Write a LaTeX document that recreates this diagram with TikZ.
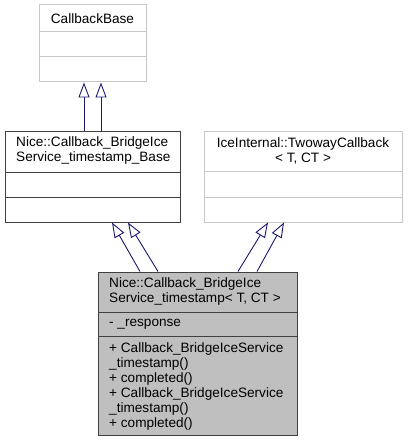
\documentclass[tikz,border=0pt]{standalone}
\usepackage{fontspec}
\setmainfont{Liberation Sans}
\usetikzlibrary{arrows.meta, positioning, calc}
\definecolor{edgeblue}{RGB}{25, 25, 112}
\definecolor{fillgray}{RGB}{191, 191, 191}
\definecolor{palegray}{RGB}{200, 200, 200}
\definecolor{darkline}{RGB}{64, 64, 64}
\newcommand{\umlfont}{\fontsize{13.6}{15}\selectfont}

\begin{document}
\begin{tikzpicture}[x=1pt, y=-1pt,
  umlbox/.style={draw=darkline, line width=1pt, inner sep=0pt},
  palebox/.style={draw=palegray, line width=1pt, inner sep=0pt},
  umltext/.style={inner sep=0pt, font=\umlfont, align=left, anchor=west},
  inherit/.style={draw=edgeblue, line width=0.9pt, -{Triangle[open, length=15pt, width=11pt]}}]
  \useasboundingbox (0,0) rectangle (407,441);

  % Boxes
  \node[palebox, minimum width=107pt, minimum height=77pt] (cbase) at (92.5, 43.5) {};
  \node[umlbox, minimum width=175pt, minimum height=91pt] (base) at (92.5, 176.5) {};
  \node[palebox, minimum width=198pt, minimum height=91pt] (tw) at (303, 176.5) {};
  \node[umlbox, fill=fillgray, minimum width=199pt, minimum height=163pt] (main) at (197.5, 353.5) {};

  % Compartment lines
  \draw[palegray, line width=1pt] (39, 32) -- (146, 32) (39, 57) -- (146, 57);
  \draw[darkline, line width=1pt] (5, 172) -- (180, 172) (5, 197) -- (180, 197);
  \draw[palegray, line width=1pt] (204, 171) -- (402, 171) (204, 197) -- (402, 197);
  \draw[darkline, line width=1pt] (98, 312) -- (297, 312) (98, 336) -- (297, 336);

  % Texts
  \node[umltext, anchor=center] (cbasetitle) at (92.5, 19) {CallbackBase};
  \node[umltext] (basetitle) at (16, 150.5) {Nice::Callback\_BridgeIce\\Service\_timestamp\_Base};
  \node[umltext, anchor=center, align=center] (twtitle) at (303, 150.5) {IceInternal::TwowayCallback\\< T, CT >};
  \node[umltext] (maintitle) at (109, 291) {Nice::Callback\_BridgeIce\\Service\_timestamp< T, CT >};
  \node[umltext] (mainattr) at (109, 324) {- \_response};
  \node[umltext] (mainops) at (109, 386) {+ Callback\_BridgeIceService\\\_timestamp()\\+ completed()\\+ Callback\_BridgeIceService\\\_timestamp()\\+ completed()};

  % Inheritance
  \draw[inherit] ([xshift=-8.5pt]base.north) -- ([xshift=-8.5pt]cbase.south);
  \draw[inherit] ([xshift=8.5pt]base.north) -- ([xshift=8.5pt]cbase.south);
  \draw[inherit] ([xshift=-57.5pt]main.north) -- ([xshift=19.5pt]base.south);
  \draw[inherit] ([xshift=-39.5pt]main.north) -- ([xshift=35.5pt]base.south);
  \draw[inherit] ([xshift=40.5pt]main.north) -- ([xshift=-35pt]tw.south);
  \draw[inherit] ([xshift=59.5pt]main.north) -- ([xshift=-19pt]tw.south);
\end{tikzpicture}
\end{document}
